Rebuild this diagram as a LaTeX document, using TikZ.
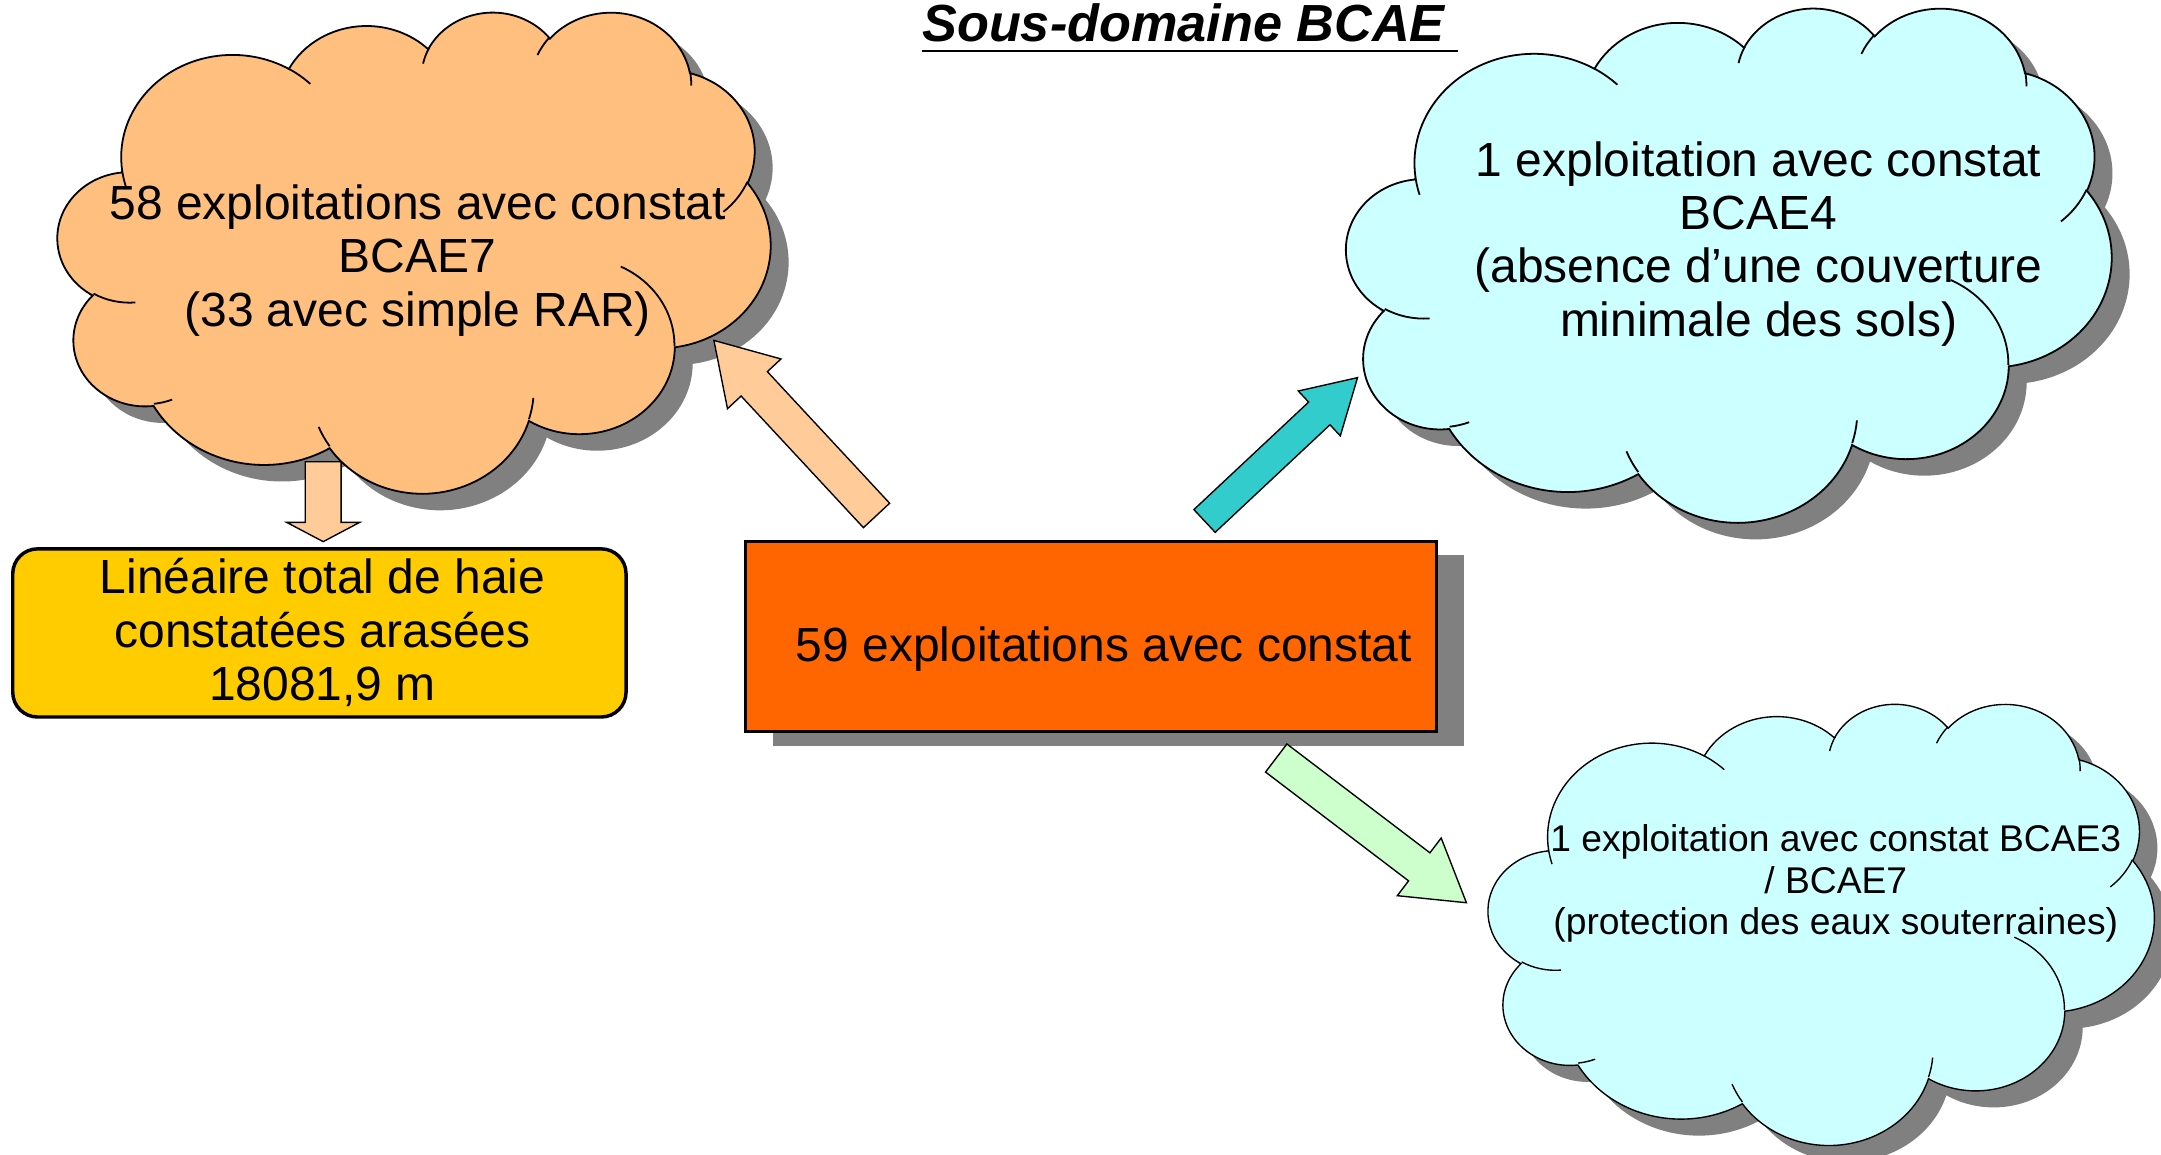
\documentclass[tikz,border=0pt]{standalone}
\usepackage{fontspec}
\setmainfont{Liberation Sans}
\usetikzlibrary{calc}
\definecolor{cloudorange}{HTML}{FFBF7F}
\definecolor{peach}{HTML}{FFCC99}
\definecolor{cloudblue}{HTML}{CCFFFF}
\definecolor{boxorange}{HTML}{FF6600}
\definecolor{boxyellow}{HTML}{FFCC00}
\definecolor{tealarrow}{HTML}{33CCCC}
\definecolor{mint}{HTML}{CCFFCC}
\definecolor{shadowgray}{HTML}{808080}

% elliptical arc with OOXML-style (visual) angles
\newcommand\carc[4]{arc[x radius=#1, y radius=#2, start angle={atan2(#1*sin(#3),#2*cos(#3))}, delta angle={mod(atan2(#1*sin(#3+#4),#2*cos(#3+#4))-atan2(#1*sin(#3),#2*cos(#3))+720,360)}]}

\newcommand\cloudouter{(3.9,14.37) \carc{6.753}{9.19}{-190.4875}{123.7805} \carc{5.333}{7.267}{-144.1024}{89.9452} \carc{4.365}{5.945}{-145.8079}{99.723} \carc{4.857}{6.595}{-130.9861}{117.2417} \carc{5.333}{7.273}{-78.7089}{109.0269} \carc{6.775}{9.22}{-46.2673}{130.269} \carc{5.785}{7.867}{0.625}{114.0333} \carc{6.752}{9.215}{22.4516}{115.1726} \carc{7.72}{10.543}{66.2426}{75.711} \carc{4.36}{5.918}{-274.9421}{146.7356} \carc{4.345}{5.945}{-246.8285}{152.5189} -- cycle}

\newcommand\cloudinner{(4.693,26.177) \carc{4.345}{5.945}{86.742}{26.4295} (6.928,34.899) \carc{4.36}{5.918}{73.6105}{11.4475} (16.478,39.09) \carc{6.752}{9.215}{137.6242}{14.0811} (28.827,34.751) \carc{6.752}{9.215}{6.4533}{15.9984} (34.129,22.954) \carc{5.785}{7.867}{-70.2924}{70.9174} (41.798,15.354) \carc{5.333}{7.273}{30.318}{27.7515} (38.324,5.426) \carc{4.857}{6.595}{-13.7443}{14.8589} (29.078,3.952) \carc{4.857}{6.595}{-149.1815}{18.1954} (22.141,4.72) \carc{4.365}{5.945}{-163.4943}{17.6864} (14,5.192) \carc{6.753}{9.19}{-66.707}{12.3194} (4.127,15.789) \carc{6.753}{9.19}{157.6544}{11.8582}}

% x0 y0 w h fill linewidth
\newcommand\drawcloud[6]{%
  \pgfmathsetmacro\cw{#3/43.2}\pgfmathsetmacro\ch{#4/43.2}%
  \begin{scope}[shift={(#1+13,#2+12)}, x={(\cw pt,0pt)}, y={(0pt,-\ch pt)}]
    \fill[shadowgray] \cloudouter;
  \end{scope}
  \begin{scope}[shift={(#1,#2)}, x={(\cw pt,0pt)}, y={(0pt,-\ch pt)}]
    \filldraw[fill=#5, draw=black, line width=#6] \cloudouter;
    \draw[line width=#6] \cloudinner;
  \end{scope}}

% style, tail, tip, half shaft, half head, head length
\newcommand\blockarrow[6]{%
  \coordinate (ban) at ($(#3)!#6pt!(#2)$);
  \draw[#1] ($(#2)!#4pt!90:(#3)$) -- ($(ban)!#4pt!90:(#3)$) -- ($(ban)!#5pt!90:(#3)$) -- (#3)
    -- ($(ban)!#5pt!-90:(#3)$) -- ($(ban)!#4pt!-90:(#3)$) -- ($(#2)!#4pt!-90:(#3)$) -- cycle;}

\tikzset{
  bigtxt/.style={font=\fontsize{34.8}{38.6}\selectfont, align=center, inner sep=0pt},
  smalltxt/.style={font=\fontsize{27}{30}\selectfont, align=center, inner sep=0pt},
  arrowbody/.style={draw=black, line width=1pt, line join=miter},
}

\begin{document}
\begin{tikzpicture}[x=1pt,y=-1pt]
\useasboundingbox (0,0) rectangle (1568,838);

% clouds
\drawcloud{42}{8}{517}{349}{cloudorange}{1.3pt}
\drawcloud{977}{5}{555}{373}{cloudblue}{1.3pt}
\drawcloud{1080}{510}{483}{320}{cloudblue}{1pt}

% central box
\fill[shadowgray] (561,403) rectangle (1062,541);
\node[draw=black, line width=2.2pt, fill=boxorange, minimum width=501pt, minimum height=138pt, inner sep=0pt, anchor=north west] (box) at (540,392) {};

% yellow box
\node[draw=black, line width=2.5pt, fill=boxyellow, rounded corners=18pt, minimum width=445pt, minimum height=122pt, inner sep=0pt, anchor=north west] (haie) at (8,397) {};

% arrows
\coordinate (a1t) at (636,374); \coordinate (a1h) at (518,247);
\coordinate (a2t) at (874,378); \coordinate (a2h) at (985,274);
\coordinate (a3t) at (926,550); \coordinate (a3h) at (1064,655);
\coordinate (a4t) at (234.5,335); \coordinate (a4h) at (234.5,393);
\blockarrow{arrowbody, fill=peach}{a1t}{a1h}{13}{26.5}{43}
\blockarrow{arrowbody, fill=tealarrow}{a2t}{a2h}{11.3}{22.3}{38}
\blockarrow{arrowbody, fill=mint}{a3t}{a3h}{12.8}{26.3}{43}
\blockarrow{arrowbody, fill=peach}{a4t}{a4h}{13}{26.5}{14}

% texts
\node[anchor=base west, inner sep=0pt, font=\fontsize{37.9}{40}\selectfont\bfseries\itshape] (title) at (669,30) {Sous-domaine BCAE};
\draw[line width=2pt] (669,37) -- (1058,37);

\node[bigtxt] (t58) at (303,189) {58 exploitations avec constat\\BCAE7\\(33 avec simple RAR)};
\node[bigtxt] (t1a) at (1276,177) {1 exploitation avec constat\\BCAE4\\(absence d’une couverture\\minimale des sols)};
\node[smalltxt] (t1b) at (1332,641) {1 exploitation avec constat BCAE3\\/ BCAE7\\(protection des eaux souterraines)};
\node[bigtxt] (thaie) at (234,459) {Linéaire total de haie\\constatées arasées\\18081,9 m};
\node[bigtxt, anchor=base] (t59) at (801,480) {59 exploitations avec constat};
\end{tikzpicture}
\end{document}
